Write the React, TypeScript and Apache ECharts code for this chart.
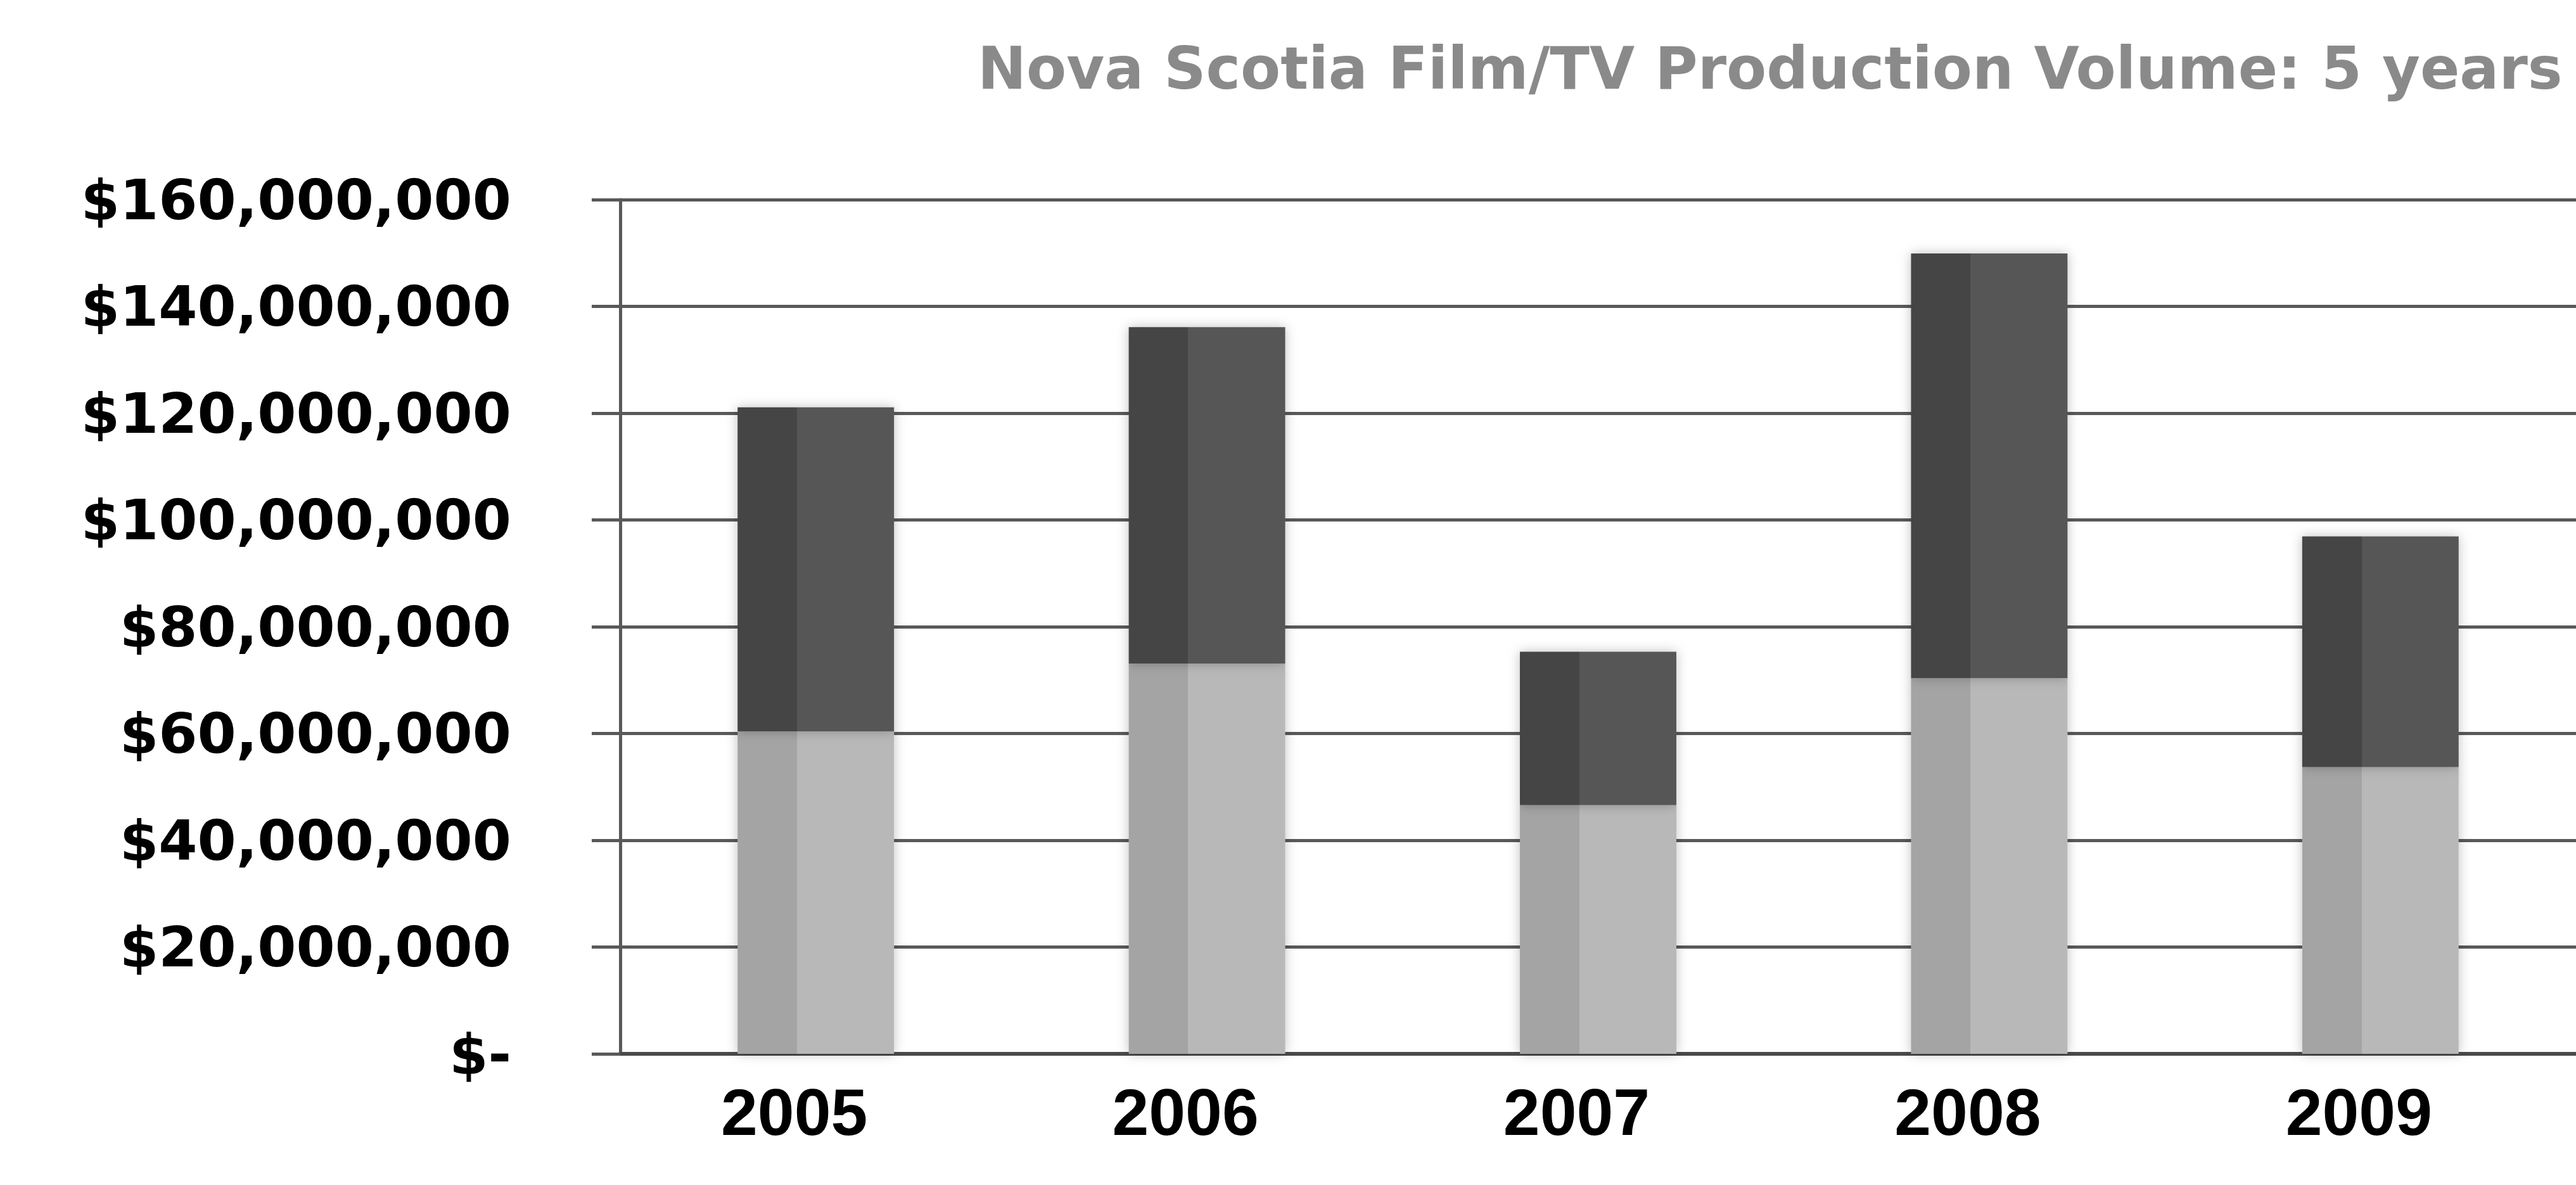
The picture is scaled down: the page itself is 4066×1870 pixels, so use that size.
import React, { useEffect, useRef } from "react";
import * as echarts from "echarts";

const years = ["2005", "2006", "2007", "2008", "2009"];
const lowerValues = [60400000, 73100000, 46600000, 70400000, 53700000];
const upperValues = [60700000, 63000000, 28700000, 79500000, 43200000];
const yTicks = { min: 0, max: 160000000, interval: 20000000 };
const titleText = "Nova Scotia Film/TV Production Volume: 5 years";

function fmt(v: number): string {
  if (v === 0) return "$-";
  return "$" + v.toLocaleString("en-US");
}

export default function App() {
  const ref = useRef<HTMLDivElement>(null);
  useEffect(() => {
    if (!ref.current) return;
    const chart = echarts.init(ref.current, null, { renderer: "svg" });
    const lowerFill = new echarts.graphic.LinearGradient(0, 0, 1, 0, [
      { offset: 0, color: "#a4a4a4" },
      { offset: 0.38, color: "#a4a4a4" },
      { offset: 0.38, color: "#b8b8b8" },
      { offset: 1, color: "#b8b8b8" },
    ]);
    const upperFill = new echarts.graphic.LinearGradient(0, 0, 1, 0, [
      { offset: 0, color: "#444444" },
      { offset: 0.38, color: "#444444" },
      { offset: 0.38, color: "#575757" },
      { offset: 1, color: "#575757" },
    ]);
    chart.setOption({
      animation: false,
      backgroundColor: "#ffffff",
      title: {
        text: titleText,
        left: 1538,
        top: 57,
        textStyle: {
          fontFamily: "DejaVu Sans, Verdana, sans-serif",
          fontWeight: "bold",
          fontSize: 92,
          color: "#8a8a8a",
        },
      },
      grid: { left: 979, top: 315, width: 3096, height: 1348 },
      xAxis: {
        type: "category",
        data: years,
        axisLine: { show: true, lineStyle: { color: "#4a4a4a", width: 6 } },
        axisTick: { show: false },
        axisLabel: {
          margin: 40,
          padding: [0, 68, 0, 0],
          fontFamily: "Liberation Sans, Arial, sans-serif",
          fontWeight: "bold",
          fontSize: 104,
          color: "#000000",
        },
      },
      yAxis: {
        type: "value",
        min: yTicks.min,
        max: yTicks.max,
        interval: yTicks.interval,
        axisLine: { show: true, lineStyle: { color: "#595959", width: 5 } },
        axisTick: { show: true, length: 45, lineStyle: { color: "#595959", width: 5 } },
        splitLine: { show: true, lineStyle: { color: "#595959", width: 5 } },
        axisLabel: {
          margin: 172,
          formatter: fmt,
          fontFamily: "DejaVu Sans, Verdana, sans-serif",
          fontWeight: "bold",
          fontSize: 88,
          color: "#000000",
        },
      },
      series: [
        {
          name: "Lower",
          type: "bar",
          stack: "total",
          barWidth: "40%",
          data: lowerValues,
          itemStyle: {
            color: lowerFill,
            shadowColor: "rgba(0,0,0,0.25)",
            shadowBlur: 18,
          },
        },
        {
          name: "Upper",
          type: "bar",
          stack: "total",
          barWidth: "40%",
          data: upperValues,
          itemStyle: {
            color: upperFill,
            shadowColor: "rgba(0,0,0,0.25)",
            shadowBlur: 18,
          },
        },
      ],
    });
    return () => chart.dispose();
  }, []);
  return (
    <div
      ref={ref}
      style={{ position: "absolute", left: 0, top: 0, width: 4066, height: 1870, background: "#fff" }}
    />
  );
}
